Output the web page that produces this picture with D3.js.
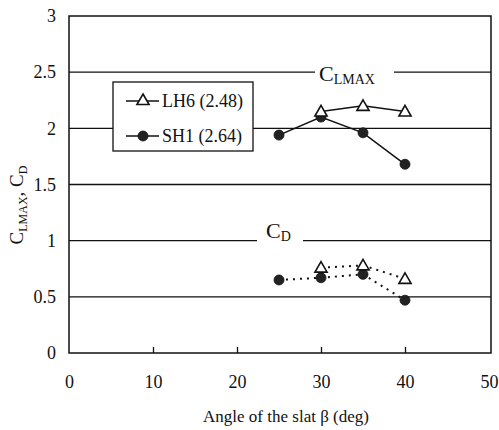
<!DOCTYPE html>
<html>
<head>
<meta charset="utf-8">
<script src="https://cdn.jsdelivr.net/npm/d3@7/dist/d3.min.js"></script>
<style>
  body { margin: 0; background: #fff; }
  svg, svg text, svg tspan { font-family: "Liberation Serif", "Times New Roman", Times, serif !important; }
  svg text { fill: #111; }
</style>
</head>
<body>
<svg id="chart" width="499" height="430"></svg>
<script>
// Slat angle (deg)
const anglesLH6 = [30, 35, 40];
const anglesSH1 = [25, 30, 35, 40];
// Maximum lift coefficient
const clmaxLH6 = [2.15, 2.2, 2.15];
const clmaxSH1 = [1.94, 2.1, 1.96, 1.68];
// Drag coefficient
const cdLH6 = [0.76, 0.78, 0.66];
const cdSH1 = [0.65, 0.67, 0.70, 0.47];

const xTicks = [0, 10, 20, 30, 40, 50];
const yTicks = [0, 0.5, 1, 1.5, 2, 2.5, 3];
const legendLabels = ["LH6 (2.48)", "SH1 (2.64)"];

const svg = d3.select("#chart");
const m = { left: 69, right: 491, top: 16, bottom: 353 };

const x = d3.scaleLinear().domain([0, 50]).range([m.left, m.right - 2]);
const y = d3.scaleLinear().domain([0, 3]).range([m.bottom, m.top]);

const ink = "#111";
const serif = "Liberation Serif, Times New Roman, serif";

// horizontal grid lines, with gaps where the curve-group labels sit
const gaps = { 2.5: [315, 394], 1: [257, 303] };
yTicks.forEach(v => {
  if (v === 0 || v === 3) return;
  const yy = y(v);
  const segs = gaps[v] ? [[m.left, gaps[v][0]], [gaps[v][1], m.right]] : [[m.left, m.right]];
  segs.forEach(s => {
    svg.append("line").attr("x1", s[0]).attr("x2", s[1]).attr("y1", yy).attr("y2", yy)
      .attr("stroke", ink).attr("stroke-width", 1.3);
  });
});

// frame
svg.append("rect").attr("x", m.left).attr("y", m.top)
  .attr("width", m.right - m.left).attr("height", m.bottom - m.top)
  .attr("fill", "none").attr("stroke", ink).attr("stroke-width", 1.5);

// x axis: inward ticks, labels below
const xAxis = d3.axisBottom(x).tickValues(xTicks).tickSize(-6).tickPadding(22)
  .tickFormat(d3.format("d"));
const gx = svg.append("g").attr("transform", `translate(0,${m.bottom})`).call(xAxis)
  .attr("font-family", serif).attr("font-size", 18);
gx.select(".domain").remove();
gx.selectAll(".tick line").attr("stroke", ink).attr("stroke-width", 1.3)
  .filter(d => d === 0 || d === 50).remove();
gx.selectAll("text").attr("fill", ink);

// y axis labels
const yAxis = d3.axisLeft(y).tickValues(yTicks).tickSize(0).tickPadding(13)
  .tickFormat(d => String(d));
const gy = svg.append("g").attr("transform", `translate(${m.left},0)`).call(yAxis)
  .attr("font-family", serif).attr("font-size", 18);
gy.select(".domain").remove();
gy.selectAll("text").attr("fill", ink);

// axis titles
svg.append("text").attr("x", 286).attr("y", 422).attr("text-anchor", "middle")
  .attr("font-size", 17).text("Angle of the slat β (deg)");

const yt = svg.append("text").attr("transform", "translate(23,205) rotate(-90)")
  .attr("text-anchor", "middle").attr("font-size", 19);
yt.append("tspan").text("C");
yt.append("tspan").attr("font-size", 12).attr("dy", 4).text("LMAX");
yt.append("tspan").attr("dy", -4).text(", C");
yt.append("tspan").attr("font-size", 12).attr("dy", 4).text("D");

// curve-group labels
const t1 = svg.append("text").attr("x", 319).attr("y", 81).attr("font-size", 22);
t1.append("tspan").text("C");
t1.append("tspan").attr("font-size", 14).attr("dy", 3).text("LMAX");
const t2 = svg.append("text").attr("x", 266).attr("y", 238).attr("font-size", 22);
t2.append("tspan").text("C");
t2.append("tspan").attr("font-size", 14).attr("dy", 3).text("D");

// markers
const tri = d3.symbol().type(d3.symbolTriangle).size(64);
function triangles(xs, ys) {
  svg.append("g").selectAll("path").data(xs).join("path")
    .attr("d", tri)
    .attr("transform", (d, i) => `translate(${x(d)},${y(ys[i]) + 1})`)
    .attr("fill", "#fff").attr("stroke", ink).attr("stroke-width", 1.6);
}
function dots(xs, ys) {
  svg.append("g").selectAll("circle").data(xs).join("circle")
    .attr("cx", d => x(d)).attr("cy", (d, i) => y(ys[i])).attr("r", 5)
    .attr("fill", "#222").attr("stroke", ink).attr("stroke-width", 0.8);
}
function line(xs, ys, dashed) {
  const gen = d3.line().x(d => x(d[0])).y(d => y(d[1]));
  svg.append("path").datum(xs.map((d, i) => [d, ys[i]]))
    .attr("d", gen).attr("fill", "none").attr("stroke", ink)
    .attr("stroke-width", dashed ? 2 : 1.5)
    .attr("stroke-dasharray", dashed ? "2,5" : null);
}

line(anglesLH6, clmaxLH6, false);
line(anglesSH1, clmaxSH1, false);
line(anglesLH6, cdLH6, true);
line(anglesSH1, cdSH1, true);
dots(anglesSH1, clmaxSH1);
triangles(anglesLH6, clmaxLH6);
dots(anglesSH1, cdSH1);
triangles(anglesLH6, cdLH6);

// legend
const lg = svg.append("g");
lg.append("rect").attr("x", 113).attr("y", 82).attr("width", 140).attr("height", 69)
  .attr("fill", "#fff").attr("stroke", ink).attr("stroke-width", 1.3);
const ly = [101, 136];
ly.forEach((yy, i) => {
  lg.append("line").attr("x1", 126).attr("x2", 159).attr("y1", yy).attr("y2", yy)
    .attr("stroke", ink).attr("stroke-width", 1.5);
  if (i === 0) {
    lg.append("path").attr("d", tri).attr("transform", `translate(143,${yy})`)
      .attr("fill", "#fff").attr("stroke", ink).attr("stroke-width", 1.6);
  } else {
    lg.append("circle").attr("cx", 143).attr("cy", yy).attr("r", 5)
      .attr("fill", "#222").attr("stroke", ink).attr("stroke-width", 0.8);
  }
  lg.append("text").attr("x", 162).attr("y", yy + 6).attr("font-size", 18)
    .text(legendLabels[i]);
});
</script>
</body>
</html>
